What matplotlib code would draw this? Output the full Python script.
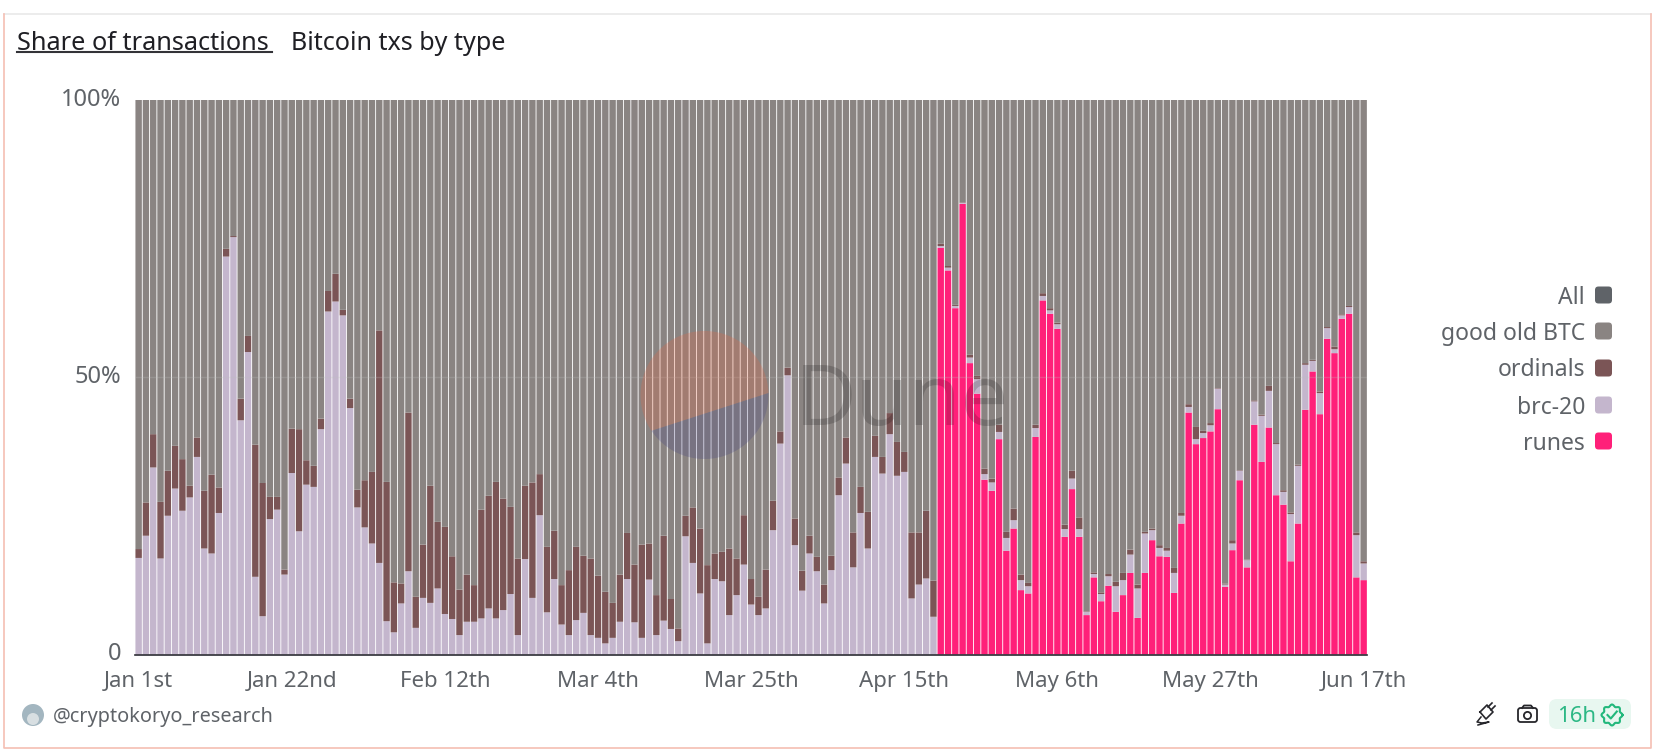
import numpy as np
import matplotlib
matplotlib.use('Agg')
import matplotlib.pyplot as plt
from matplotlib.patches import Circle, FancyBboxPatch, Polygon
from matplotlib.transforms import ScaledTranslation

plt.rcParams['font.family'] = ['Noto Sans', 'DejaVu Sans']

# top edge of each stacked segment, % of daily txs
ordinals_top = [
    19.0, 27.4, 39.7, 27.5, 33.1, 37.6, 35.2, 30.4, 39.1, 29.5,
    32.4, 30.1, 73.1, 75.4, 46.1, 57.4, 37.8, 30.9, 28.4, 28.4,
    15.3, 40.7, 40.6, 35.0, 34.0, 42.5, 65.5, 68.6, 62.1, 46.1,
    29.7, 31.4, 32.9, 58.4, 31.1, 13.0, 12.8, 43.6, 10.4, 19.8,
    30.4, 23.9, 23.0, 17.7, 11.7, 14.4, 12.5, 26.1, 28.6, 31.1,
    28.1, 26.6, 17.3, 30.4, 31.0, 32.5, 19.4, 22.3, 12.5, 15.2,
    19.4, 17.8, 17.3, 14.2, 11.3, 9.3, 14.4, 21.9, 16.2, 19.8,
    20.0, 10.7, 21.4, 10.0, 4.7, 25.0, 26.5, 22.7, 16.1, 18.2,
    18.5, 19.1, 17.3, 25.1, 13.6, 10.4, 15.3, 27.7, 40.2, 51.7,
    24.5, 15.1, 21.4, 17.6, 12.6, 17.8, 31.9, 39.1, 22.0, 30.2,
    25.7, 39.4, 35.6, 43.5, 38.3, 36.5, 22.0, 22.0, 25.9, 13.3,
    74.0, 70.0, 63.0, 81.5, 54.0, 50.2, 33.5, 31.7, 41.4, 22.1,
    26.3, 14.4, 12.9, 41.4, 65.1, 62.4, 59.8, 23.4, 33.1, 24.7,
    7.8, 14.8, 11.2, 14.5, 13.1, 14.7, 18.9, 12.6, 22.1, 22.7,
    19.7, 19.2, 15.6, 25.5, 45.1, 41.0, 40.3, 41.7, 48.0, 12.8,
    20.6, 33.2, 17.1, 45.8, 43.2, 48.4, 38.1, 29.6, 25.6, 34.2,
    52.5, 53.1, 47.4, 59.0, 55.5, 61.3, 62.8, 22.0, 16.8]

brc20_top = [
    17.4, 21.4, 33.7, 17.3, 25.0, 29.9, 25.9, 28.3, 35.6, 19.1,
    18.2, 25.5, 71.7, 75.2, 42.2, 54.5, 14.0, 6.9, 24.4, 26.1,
    14.4, 32.7, 22.2, 30.6, 30.2, 40.6, 61.8, 63.6, 61.1, 44.4,
    26.5, 22.9, 20.0, 16.5, 6.0, 4.0, 9.2, 15.0, 4.8, 10.2,
    9.3, 11.9, 7.3, 6.4, 3.5, 5.9, 5.9, 6.5, 8.3, 6.5,
    8.0, 10.9, 3.5, 17.2, 10.2, 25.1, 7.6, 13.6, 5.4, 3.5,
    6.2, 7.5, 3.5, 3.0, 2.0, 3.0, 5.9, 13.6, 5.8, 3.0,
    13.5, 3.5, 6.1, 4.6, 2.4, 21.3, 16.5, 11.0, 2.0, 13.6,
    13.2, 7.1, 10.7, 16.2, 9.0, 7.1, 8.3, 22.4, 38.0, 50.3,
    19.7, 11.5, 18.2, 15.0, 9.2, 15.2, 28.7, 34.4, 15.7, 25.5,
    19.1, 35.6, 32.6, 39.7, 32.2, 32.9, 10.1, 12.6, 13.7, 6.8,
    73.6, 69.7, 62.8, 81.4, 53.5, 49.6, 32.5, 31.0, 40.1, 21.0,
    24.2, 13.4, 12.3, 40.8, 64.6, 62.0, 59.5, 22.6, 31.7, 22.6,
    7.7, 14.5, 10.9, 14.1, 12.3, 13.4, 18.0, 11.9, 21.8, 22.4,
    19.2, 18.7, 14.7, 25.0, 44.6, 38.8, 39.9, 41.3, 47.9, 12.6,
    20.0, 33.1, 17.0, 45.6, 43.0, 47.5, 37.9, 29.3, 25.3, 34.0,
    52.2, 52.9, 47.1, 58.8, 55.0, 61.1, 62.6, 21.5, 16.4]

# runes only exist from Apr 20th on
runes = [0] * 110 + [
    73.3, 69.2, 62.4, 81.2, 52.5, 47.0, 31.5, 29.5, 38.8, 18.7,
    22.7, 11.6, 11.0, 39.2, 63.8, 61.4, 58.7, 21.2, 29.8, 21.2,
    7.1, 13.9, 9.6, 12.4, 7.7, 10.7, 14.7, 6.6, 14.7, 20.6,
    17.7, 17.6, 11.1, 23.6, 43.6, 37.9, 39.0, 40.2, 44.2, 12.2,
    18.8, 31.4, 15.7, 41.4, 34.7, 40.9, 28.7, 27.0, 16.8, 23.6,
    44.1, 51.0, 43.3, 56.9, 54.3, 60.5, 61.4, 13.9, 13.4]

date_labels = ['Jan 1st', 'Jan 22nd', 'Feb 12th', 'Mar 4th', 'Mar 25th',
               'Apr 15th', 'May 6th', 'May 27th', 'Jun 17th']
date_ticks = [0, 21, 42, 63, 84, 105, 126, 147, 168]
legend_names = ['All', 'good old BTC', 'ordinals', 'brc-20', 'runes']
legend_colors = ['#5f6368', '#8a8482', '#7b5556', '#c4b6cd', '#ff2079']

W, H = 1653, 755
GREY = '#5f6368'

fig = plt.figure(figsize=(W / 100, H / 100), dpi=100, facecolor='white')
ax = fig.add_axes([135 / W, (H - 654.5) / H, 1232.3 / W, 555 / H])

x = np.arange(len(runes))
r = np.array(runes)
b = np.array(brc20_top)
o = np.array(ordinals_top)
# snap off, otherwise the thin gaps land unevenly on the pixel grid
bw = 0.88
ax.bar(x, r, width=bw, color=legend_colors[4], linewidth=0, snap=False)
ax.bar(x, b - r, bottom=r, width=bw, color=legend_colors[3], linewidth=0, snap=False)
ax.bar(x, o - b, bottom=b, width=bw, color=legend_colors[2], linewidth=0, snap=False)
ax.bar(x, 100 - o, bottom=o, width=bw, color=legend_colors[1], linewidth=0, snap=False)

ax.set_xlim(-0.5, 168.5)
ax.set_ylim(0, 100)
ax.axhline(50, color='#c0c0c0', lw=1, alpha=0.25)
for s in ['top', 'left', 'right']:
    ax.spines[s].set_visible(False)
ax.spines['bottom'].set_color('#2b2b33')
ax.spines['bottom'].set_linewidth(1.2)
ax.set_xticks(date_ticks)
ax.set_xticklabels(date_labels)
ax.set_yticks([0, 50, 100])
ax.set_yticklabels(['0', '50%', '100%'])
ax.tick_params(axis='x', length=0, pad=12, labelsize=16, labelcolor=GREY)
ax.tick_params(axis='y', length=0, pad=10, labelsize=17, labelcolor=GREY)
# y labels sit a little above their gridlines in the original
up = ScaledTranslation(0, 3 / 100, fig.dpi_scale_trans)
for lab in ax.get_yticklabels():
    lab.set_transform(lab.get_transform() + up)

# everything else sits on an overlay in pixel coordinates
ov = fig.add_axes([0, 0, 1, 1], facecolor='none')
ov.set_xlim(0, W)
ov.set_ylim(H, 0)
ov.axis('off')

# card border
ov.plot([3.5, 1650.5], [14, 14], color='#e9e9e9', lw=1.2)
ov.plot([3.5, 3.5, 1650.5, 1650.5], [14, 748, 748, 14], color='#f5bfb3', lw=1.2)

# title
ov.text(17, 43, 'Share of transactions', fontsize=18.2, color='#1f1f24',
        va='center', ha='left')
ov.plot([17.3, 271.7], [51.5, 51.5], color='#333338', lw=1.5)
ov.text(291, 43, 'Bitcoin txs by type', fontsize=18.1, color='#1f1f24',
        va='center', ha='left')

# watermark
cx, cy, rad = 704.5, 395, 64
a = np.radians(np.linspace(1.8, 214, 80))
ov.add_patch(Polygon(np.c_[cx + rad * np.cos(a), cy - rad * np.sin(a)],
                     color='#f2633c', alpha=0.24, lw=0))
a = np.radians(np.linspace(214, 361.8, 60))
ov.add_patch(Polygon(np.c_[cx + rad * np.cos(a), cy - rad * np.sin(a)],
                     color='#3a3a86', alpha=0.22, lw=0))
ov.text(795, 403, 'Dune', fontsize=61, color='black', alpha=0.17,
        va='center', ha='left', fontweight='medium')

# legend
legend_y = [295, 331, 368, 405, 441]
for name, col, ly in zip(legend_names, legend_colors, legend_y):
    ov.text(1585, ly + 2.5, name, fontsize=16.5, color=GREY, va='center', ha='right')
    ov.add_patch(FancyBboxPatch((1598, ly - 5.5), 11, 11,
                                boxstyle='round,pad=3,rounding_size=3.5',
                                color=col, lw=0))

# footer
ov.add_patch(Circle((33, 715), 11, color='#a3b6c0', lw=0))
ov.add_patch(Circle((33, 719), 6, color='#d8dfe2', lw=0))
ov.text(53, 717, '@cryptokoryo_research', fontsize=14.3, color=GREY,
        va='center', ha='left')

# plug icon
ink = '#26262b'
ov.plot([1480, 1487, 1493, 1486, 1480], [712, 705, 712, 719, 712], color=ink, lw=1.2)
ov.plot([1488, 1492], [707, 703], color=ink, lw=1.2)
ov.plot([1491, 1495], [710, 706], color=ink, lw=1.2)
ov.plot([1481, 1477, 1482, 1489, 1478], [717, 722, 723, 722, 725], color=ink, lw=1.1)

# camera icon
ov.add_patch(FancyBboxPatch((1519.5, 709.5), 16, 11, boxstyle='round,pad=1.5,rounding_size=2.5',
                            fc='none', ec=ink, lw=1.3))
ov.plot([1522, 1524, 1531, 1533], [708, 705.5, 705.5, 708], color=ink, lw=1.3)
ov.add_patch(Circle((1527.5, 715.5), 3.6, fc='none', ec=ink, lw=1.3))

# freshness pill
ov.add_patch(FancyBboxPatch((1557, 707), 66, 14, boxstyle='round,pad=8,rounding_size=8',
                            color='#e8f7f0', lw=0))
ov.text(1557, 717, '16h', fontsize=16, color='#2db885', va='center', ha='left')
t = np.linspace(0, 2 * np.pi, 160)
br = 9.5 + 1.0 * np.cos(8 * t)
ov.plot(1612 + br * np.cos(t), 715 + br * np.sin(t), color='#22b87c', lw=1.5)
ov.plot([1607.5, 1610.8, 1616.8], [715, 718.5, 711.5], color='#22b87c', lw=1.5)

fig.savefig('out.png', dpi=100, facecolor='white')
